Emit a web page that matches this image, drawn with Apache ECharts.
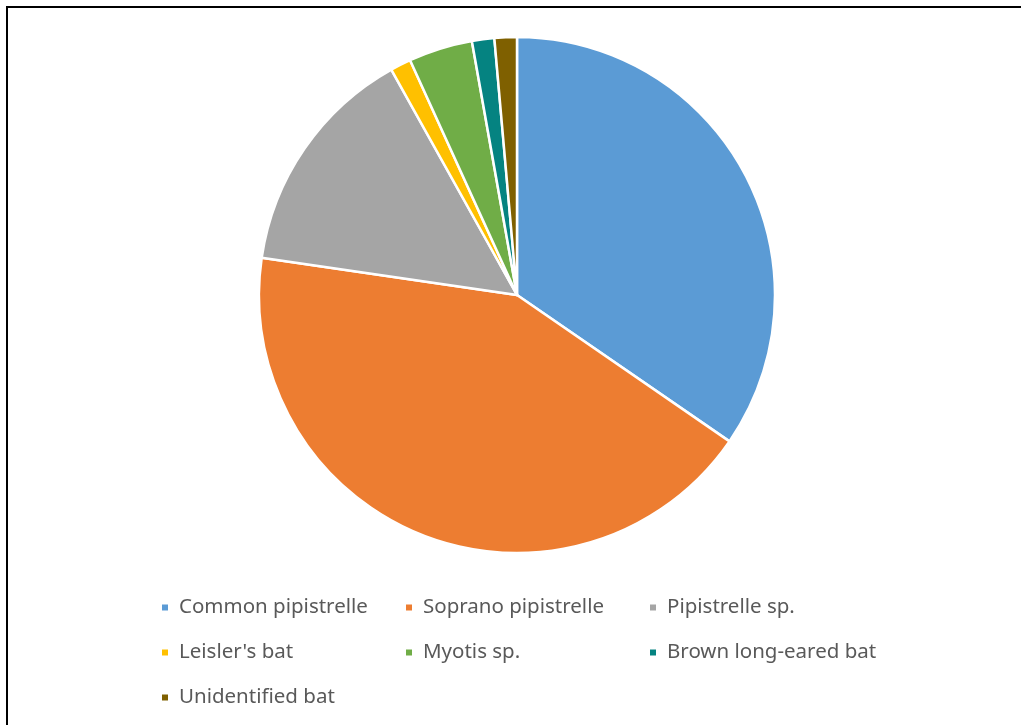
<!DOCTYPE html>
<html>
<head>
<meta charset="utf-8">
<script src="https://cdn.jsdelivr.net/npm/echarts@6/dist/echarts.min.js"></script>
<style>
  html, body { margin: 0; padding: 0; background: #fff; }
  #frame { position: absolute; left: 6px; top: 6px; width: 1015px; height: 719px;
           border-top: 2px solid #000; border-left: 2px solid #000; }
  #echarts { position: absolute; left: 0; top: 0; width: 1021px; height: 725px; }
</style>
</head>
<body>
<div id="frame"></div>
<div id="echarts"></div>
<script>
const species = ['Common pipistrelle', 'Soprano pipistrelle', 'Pipistrelle sp.', "Leisler's bat", 'Myotis sp.', 'Brown long-eared bat', 'Unidentified bat'];
const shares = [34.6, 42.7, 14.6, 1.3, 4.0, 1.4, 1.4];
const colors = ['#5B9BD5', '#ED7D31', '#A5A5A5', '#FFC000', '#70AD47', '#058381', '#7F6000'];

let myChart = echarts.init(document.getElementById('echarts'));
let option = {
  animation: false,
  color: colors,
  legend: {
    left: 155,
    top: 590,
    width: 760,
    itemWidth: 8,
    itemHeight: 8,
    itemGap: 20,
    icon: 'rect',
    textStyle: {
      fontFamily: 'Noto Sans',
      fontSize: 20.5,
      color: '#595959',
      width: 205,
      lineHeight: 25,
      padding: [0, 0, 0, 5],
    },
    data: species,
  },
  series: [
    {
      type: 'pie',
      center: [517, 295],
      radius: 258,
      startAngle: 90,
      clockwise: true,
      label: { show: false },
      labelLine: { show: false },
      itemStyle: { borderColor: '#fff', borderWidth: 2.5 },
      emphasis: { disabled: true },
      data: species.map((name, i) => ({ name, value: shares[i] })),
    },
  ],
};
myChart.setOption(option);
</script>
</body>
</html>
